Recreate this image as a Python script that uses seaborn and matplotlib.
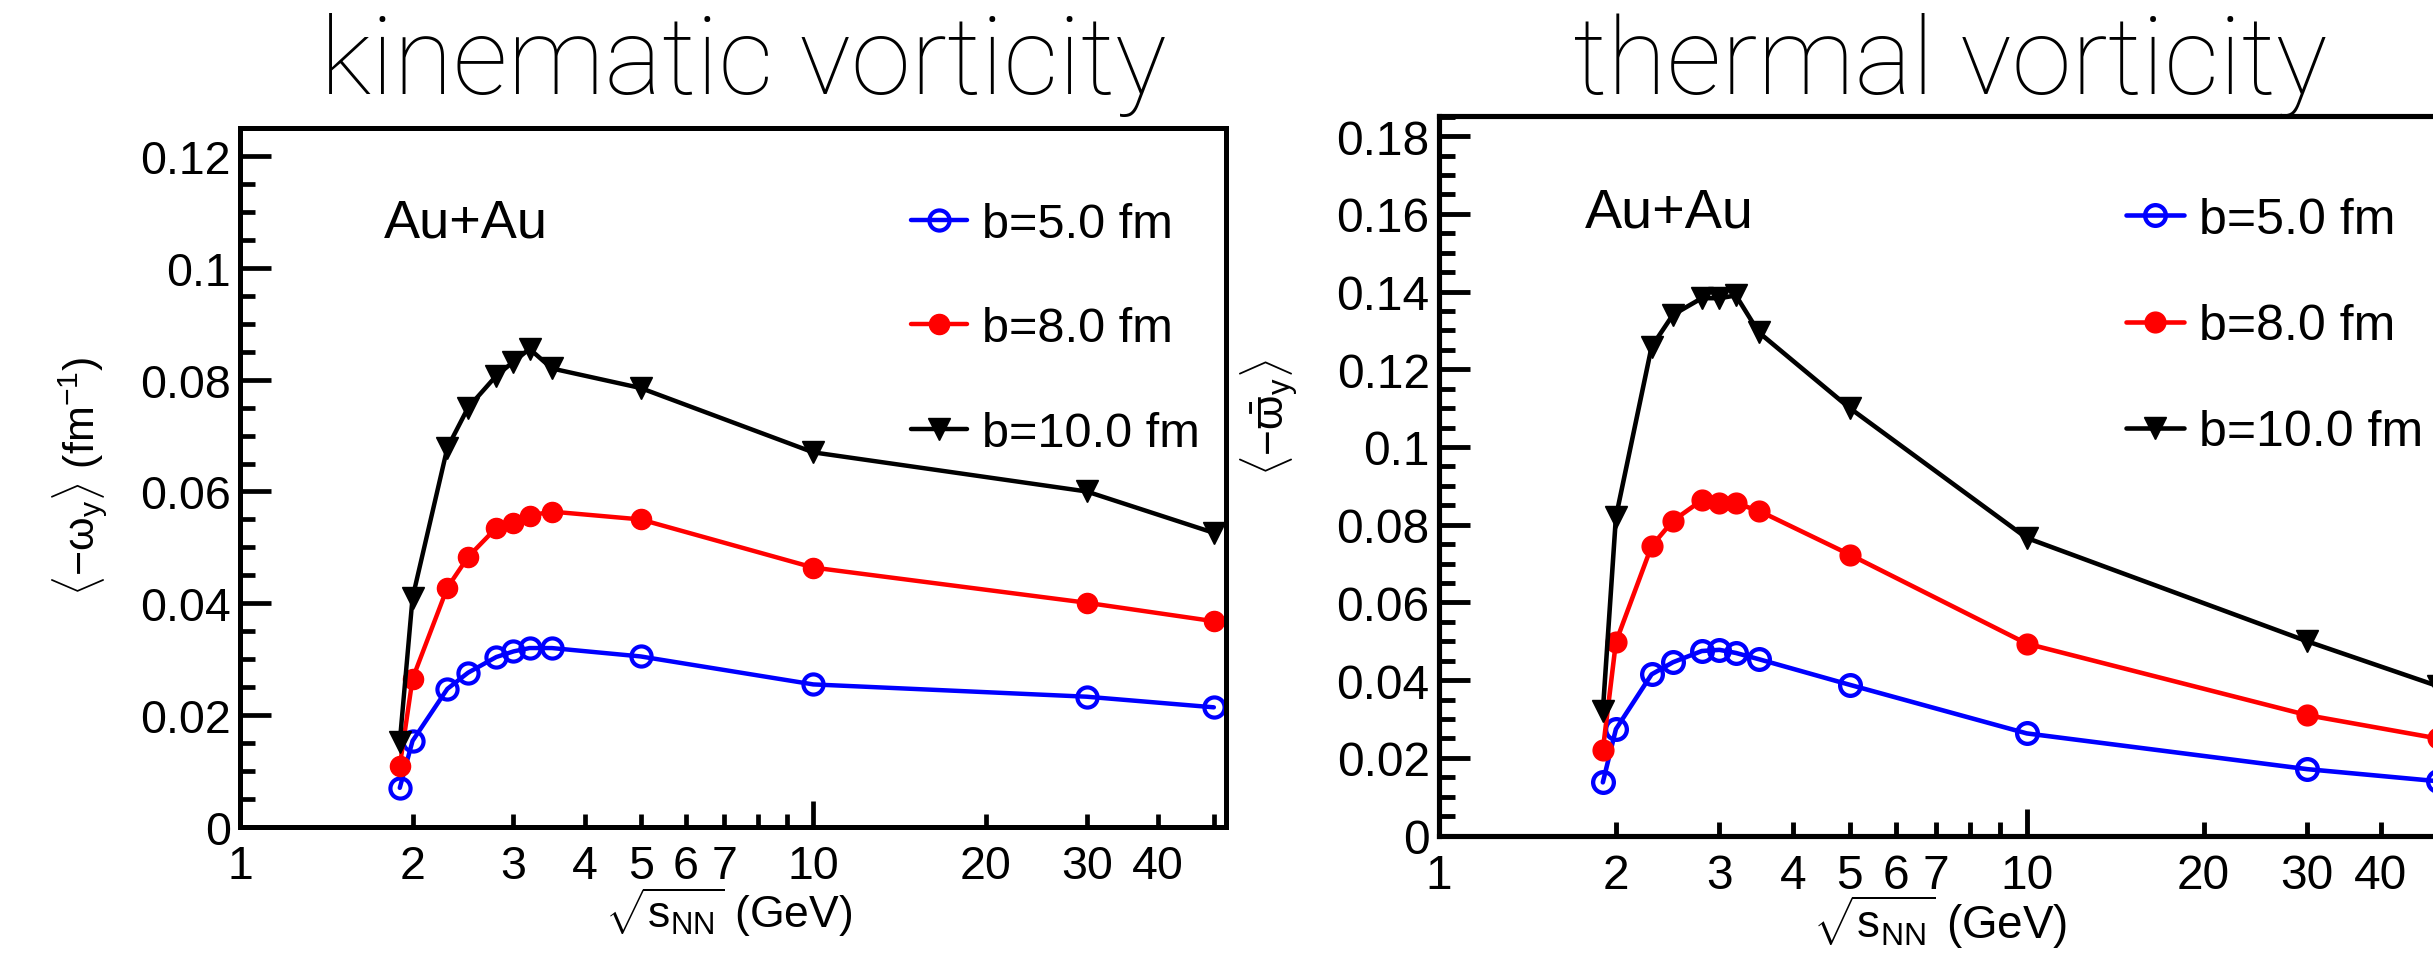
import numpy as np
import pandas as pd
import matplotlib
matplotlib.use("Agg")
import matplotlib.pyplot as plt
import seaborn as sns
from matplotlib.ticker import MultipleLocator, FixedLocator, FuncFormatter

# ---------------- data ----------------
energies = [1.9, 2.0, 2.3, 2.5, 2.8, 3.0, 3.2, 3.5, 5.0, 10.0, 30.0, 50.0]
series_labels = ["b=5.0 fm", "b=8.0 fm", "b=10.0 fm"]

kin_b5 = [0.0070, 0.0154, 0.0247, 0.0276, 0.0304, 0.0314, 0.0320, 0.0320, 0.0305, 0.0255, 0.0233, 0.0214]
kin_b8 = [0.0109, 0.0265, 0.0428, 0.0483, 0.0535, 0.0543, 0.0557, 0.0564, 0.0550, 0.0464, 0.0401, 0.0368]
kin_b10 = [0.0152, 0.0410, 0.0678, 0.0750, 0.0807, 0.0832, 0.0855, 0.0820, 0.0785, 0.0670, 0.0600, 0.0526]

th_b5 = [0.0137, 0.0274, 0.0415, 0.0446, 0.0475, 0.0478, 0.0470, 0.0454, 0.0388, 0.0263, 0.0171, 0.0140]
th_b8 = [0.0220, 0.0498, 0.0745, 0.0810, 0.0863, 0.0855, 0.0855, 0.0836, 0.0723, 0.0494, 0.0310, 0.0250]
th_b10 = [0.0320, 0.0820, 0.1258, 0.1340, 0.1383, 0.1383, 0.1390, 0.1295, 0.1100, 0.0766, 0.0500, 0.0385]

x_tick_labels = ["1", "2", "3", "4", "5", "6", "7", "10", "20", "30", "40"]

# ---------------- style ----------------
sns.set_theme(style="white")
plt.rcParams["font.family"] = ["Liberation Sans", "DejaVu Sans"]
plt.rcParams["mathtext.fontset"] = "custom"
plt.rcParams["mathtext.rm"] = "Liberation Sans"
plt.rcParams["mathtext.it"] = "Liberation Sans"
plt.rcParams["mathtext.sf"] = "Liberation Sans"

W, H = 2433, 954
DPI = 100
fig = plt.figure(figsize=(W / DPI, H / DPI), dpi=DPI)
fig.patch.set_facecolor("white")


def fx(x):
    return x / W


def fy(y):
    return 1 - y / H


colors = ["#0000ff", "#ff0000", "#000000"]
markers = ["o", "o", "v"]
faces = ["none", "#ff0000", "#000000"]


def make_panel(left, top, right, bottom, s, values, ymax, title, title_cx, title_fs,
               ylabel, ylabel_pos, aupos, leg_anchor, leg_spacing):
    ax = fig.add_axes([fx(left), fy(bottom), fx(right) - fx(left), fy(top) - fy(bottom)])
    ax.set_facecolor("white")
    for vals, lab, c, m, fc in zip(values, series_labels, colors, markers, faces):
        df = pd.DataFrame({"x": energies, "y": vals})
        sns.lineplot(data=df, x="x", y="y", ax=ax, color=c, lw=3.2 * s,
                     marker=m, markersize=(14.5 if m == "o" else 16) * s,
                     markerfacecolor=fc, markeredgecolor=c,
                     markeredgewidth=(3.0 if fc == "none" else 1.0) * s,
                     label=lab, errorbar=None)
    ax.set_xscale("log")
    ax.set_xlim(1, 52.5)
    ax.set_ylim(0, ymax)
    ax.set_xlabel("")
    ax.set_ylabel("")
    for sp in ax.spines.values():
        sp.set_linewidth(3.6 * s)
        sp.set_color("black")
        sp.set_visible(True)
    # x ticks
    ax.xaxis.set_major_locator(FixedLocator([1, 10]))
    ax.xaxis.set_minor_locator(FixedLocator([2, 3, 4, 5, 6, 7, 8, 9, 20, 30, 40, 50]))
    lab_map = {float(t): t for t in x_tick_labels}
    fmt = FuncFormatter(lambda v, p: lab_map.get(float(round(v, 6)), ""))
    ax.xaxis.set_major_formatter(fmt)
    ax.xaxis.set_minor_formatter(fmt)
    for which, ln in (("major", 19), ("minor", 9.5)):
        ax.tick_params(axis="x", which=which, direction="in", length=ln * s, width=3.4 * s,
                       labelsize=33.5 * s, pad=12 * s, bottom=True, top=False, color="black",
                       labelcolor="black")
    # y ticks
    ax.yaxis.set_major_locator(MultipleLocator(0.02))
    ax.yaxis.set_minor_locator(MultipleLocator(0.005))
    ax.yaxis.set_major_formatter(FuncFormatter(
        lambda v, p: f"{v:.2f}".rstrip("0").rstrip(".") if v > 1e-9 else "0"))
    ax.tick_params(axis="y", which="major", direction="in", length=22 * s, width=3.4 * s,
                   labelsize=33.5 * s, pad=6.5 * s, left=True, right=False, color="black",
                   labelcolor="black")
    ax.tick_params(axis="y", which="minor", direction="in", length=11 * s, width=3.4 * s,
                   left=True, right=False, color="black")
    # legend
    leg = ax.legend(loc="upper left", bbox_to_anchor=(fx(leg_anchor[0]), fy(leg_anchor[1])),
                    bbox_transform=fig.transFigure, frameon=False, fontsize=35 * s,
                    handlelength=1.16, handletextpad=0.3, labelspacing=leg_spacing,
                    borderpad=0, borderaxespad=0, numpoints=1)
    for t in leg.get_texts():
        t.set_color("black")
    # title, labels, annotation
    fig.text(fx(title_cx), fy(94), title, ha="center", va="baseline",
             fontsize=title_fs, color="black", family=["Roboto", "Liberation Sans"],
             fontweight="light")
    fig.text(fx(aupos[0]), fy(aupos[1]), "Au+Au", ha="left", va="baseline",
             fontsize=39 * s, color="black")
    fig.text(fx(0.5 * (left + right) - 4), fy(bottom + 100 * s),
             r"$\sqrt{\mathrm{s}_{\mathrm{NN}}}$ (GeV)", ha="center", va="baseline",
             fontsize=32 * s, color="black")
    fig.text(fx(ylabel_pos[0]), fy(ylabel_pos[1]), ylabel, ha="center", va="center",
             rotation=90, fontsize=31 * s, color="black")
    return ax


ax1 = make_panel(240, 129, 1226, 828, 1.0, [kin_b5, kin_b8, kin_b10], 0.125,
                 "kinematic vorticity", 743, 78,
                 r"$\langle\mathrm{-\omega}_{\mathrm{y}}\rangle$ (fm$^{-1}$)", (80, 476),
                 (384, 237), (911, 203), 1.22)
ax2 = make_panel(1439, 117.3, 2450, 836.6, 1.029, [th_b5, th_b8, th_b10], 0.1851,
                 "thermal vorticity", 1950, 78,
                 r"$\langle\mathrm{-\bar{\varpi}}_{\mathrm{y}}\rangle$", (1270, 418),
                 (1585, 228), (2126, 198), 1.2)

fig.savefig("out.png", dpi=DPI, facecolor="white")
